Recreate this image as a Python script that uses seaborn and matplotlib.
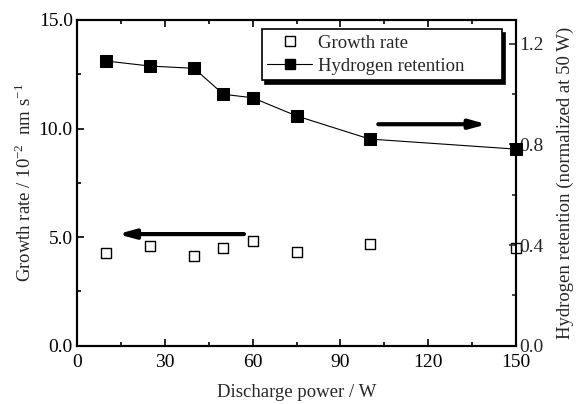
import matplotlib
matplotlib.use("Agg")
import matplotlib.pyplot as plt
import seaborn as sns
import pandas as pd
from matplotlib.ticker import MultipleLocator
from matplotlib.lines import Line2D

power = [10, 25, 40, 50, 60, 75, 100, 150]
growth_rate = [4.25, 4.6, 4.13, 4.49, 4.84, 4.33, 4.67, 4.49]
hydrogen = [1.131, 1.111, 1.102, 0.999, 0.985, 0.913, 0.821, 0.781]

sns.set_theme(style="ticks")
plt.rcParams['font.family'] = ['Liberation Serif', 'DejaVu Serif']
plt.rcParams['mathtext.fontset'] = 'custom'
plt.rcParams['mathtext.rm'] = 'Liberation Serif'

df = pd.DataFrame({"power": power, "growth": growth_rate, "hyd": hydrogen})

fig = plt.figure(figsize=(5.83, 4.04), dpi=100)
ax = fig.add_axes([77/583, 1 - 345.7/404, (516-77)/583, (345.7-20)/404])
ax2 = ax.twinx()

sns.scatterplot(data=df, x="power", y="growth", ax=ax, marker="s", s=55,
                facecolor="white", edgecolor="black", linewidth=1.0, zorder=5, clip_on=False)
sns.lineplot(data=df, x="power", y="hyd", ax=ax2, color="black", linewidth=0.8,
             marker="s", markersize=8, markerfacecolor="black", markeredgecolor="black",
             zorder=5, clip_on=False)

ax.set_xlim(0, 150)
ax.set_ylim(0, 15)
ax2.set_ylim(0, 1.294)

ax.xaxis.set_major_locator(MultipleLocator(30))
ax.xaxis.set_minor_locator(MultipleLocator(15))
ax.yaxis.set_major_locator(MultipleLocator(5))
ax.yaxis.set_minor_locator(MultipleLocator(2.5))
ax2.yaxis.set_major_locator(MultipleLocator(0.4))
ax2.yaxis.set_minor_locator(MultipleLocator(0.2))
ax.yaxis.set_major_formatter(plt.FuncFormatter(lambda v, p: f"{v:.1f}"))
ax2.yaxis.set_major_formatter(plt.FuncFormatter(lambda v, p: f"{v:.1f}"))

for a in (ax, ax2):
    for s in a.spines.values():
        s.set_linewidth(1.5)
        s.set_color("black")
ax.tick_params(axis="both", which="both", direction="in", top=True, right=False,
               labelsize=14, width=1.2, colors="black")
ax.tick_params(axis="x", pad=6)
ax.tick_params(axis="y", pad=3)
ax.tick_params(which="major", length=5)
ax.tick_params(which="minor", length=3)
ax2.tick_params(axis="y", which="both", direction="in", labelsize=14, width=1.2, pad=2)
ax2.tick_params(which="major", length=5)
ax2.tick_params(which="minor", length=3)

ax.set_xlabel("Discharge power / W", fontsize=13.5, labelpad=9)
ax.set_ylabel("Growth rate / 10$^{-2}$  nm s$^{-1}$", fontsize=13.5, labelpad=3)
ax2.set_ylabel("Hydrogen retention (normalized at 50 W)", fontsize=13.5, labelpad=10)

# arrows
ax.annotate("", xy=(13, 5.14), xytext=(58, 5.14),
            arrowprops=dict(arrowstyle="-|>,head_length=0.8,head_width=0.22", lw=3, color="black"))
ax.annotate("", xy=(141, 10.2), xytext=(102, 10.2),
            arrowprops=dict(arrowstyle="-|>,head_length=0.8,head_width=0.22", lw=3, color="black"))

handles = [
    Line2D([], [], linestyle="none", marker="s", markersize=7, markerfacecolor="white",
           markeredgecolor="black", markeredgewidth=1.0),
    Line2D([], [], color="black", linewidth=0.8, marker="s", markersize=7,
           markerfacecolor="black", markeredgecolor="black"),
]
if ax2.get_legend():
    ax2.get_legend().remove()
leg = ax2.legend(handles, ["Growth rate", "Hydrogen retention"], loc="upper left",
                 bbox_to_anchor=(0.421, 0.819, 0.547, 0.153), mode="expand",
                 fontsize=13.5, frameon=True, fancybox=False,
                 shadow={"color": "black", "alpha": 1.0, "ox": 2.5, "oy": -2.5}, borderpad=0.3,
                 handlelength=2.4, handletextpad=0.3, labelspacing=0.3, borderaxespad=0.0)
leg.get_frame().set_edgecolor("black")
leg.get_frame().set_linewidth(1.2)

fig.savefig("out.png", dpi=100)
